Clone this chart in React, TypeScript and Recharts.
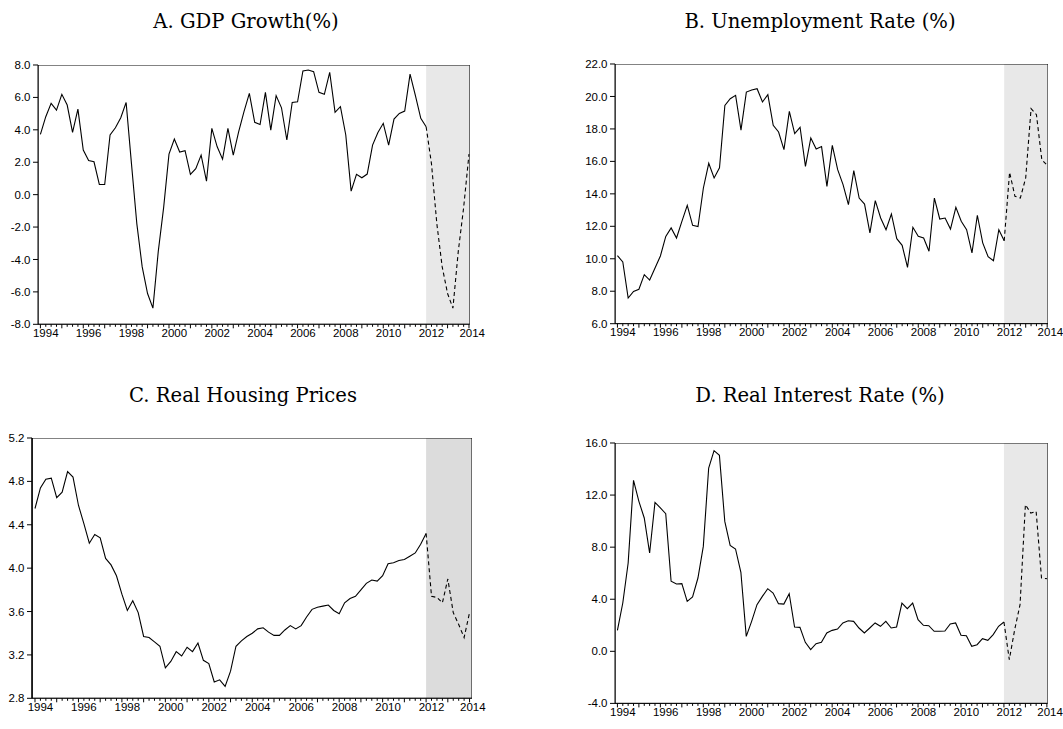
import React from 'react';
import { LineChart, Line, XAxis, YAxis, ReferenceArea } from 'recharts';

// Quarterly data, 1994Q1 .. 2014Q1 (81 quarters); forecast from 2012Q1 (index 72)
const START_YEAR = 1994;
const N_Q = 81;
const FORECAST_START = 72;

const gdpHist = [
  3.72, 4.81, 5.63, 5.22, 6.19, 5.53, 3.84, 5.28, 2.75, 2.11, 2.03, 0.63, 0.63, 3.68, 4.13, 4.75, 5.69,
  1.9, -1.8, -4.46, -6.1, -7.0, -3.5, -0.8, 2.5,
  3.43, 2.63, 2.71, 1.25, 1.6, 2.44, 0.83, 4.09, 2.95, 2.19, 4.09, 2.44, 3.88, 5.12, 6.25,
  4.46, 4.33, 6.31, 3.98, 6.11, 5.36, 3.37, 5.69, 5.73, 7.63, 7.69, 7.59, 6.31, 6.19, 7.55, 5.08, 5.43,
  3.68, 0.22, 1.25, 1.04, 1.27, 3.06, 3.84, 4.4, 3.06, 4.66, 5.01, 5.16, 7.44, 6.11, 4.71, 4.19,
];
const gdpFcst = [4.19, 1.9, -1.8, -4.46, -6.1, -7.0, -3.5, -0.8, 2.5];

const unempHist = [
  10.19, 9.8, 7.58, 7.99, 8.12, 9.02, 8.69, 9.43, 10.17, 11.38, 11.9, 11.28, 12.3, 13.29, 12.06, 11.98,
  14.36, 15.88, 14.98, 15.6, 19.45, 19.86, 20.07, 17.93, 20.27, 20.4, 20.48, 19.66, 20.11, 18.22, 17.81,
  16.72, 19.08, 17.71, 18.1, 15.69, 17.44, 16.76, 16.91,
  14.46, 16.99, 15.49, 14.57, 13.33, 15.43, 13.74, 13.37, 11.59, 13.58, 12.51,
  11.79, 12.76, 11.24, 10.83, 9.47, 11.94, 11.38, 11.28, 10.46, 13.74, 12.45, 12.51, 11.83, 13.17, 12.31,
  11.79, 10.36, 12.68, 10.98, 10.13, 9.88, 11.79, 11.11,
];
const unempFcst = [11.11, 15.33, 13.85, 13.74, 14.98, 19.25, 18.88, 16.1, 15.76];

const houseHist = [
  4.55, 4.74, 4.82, 4.83, 4.65, 4.7, 4.89, 4.84, 4.58, 4.41, 4.23, 4.31, 4.28, 4.09, 4.03, 3.93, 3.76,
  3.61, 3.7, 3.59, 3.37, 3.36, 3.32, 3.28, 3.08, 3.14, 3.23, 3.19, 3.27, 3.23, 3.31, 3.15, 3.12, 2.95,
  2.97, 2.91, 3.05, 3.28, 3.33, 3.37, 3.4, 3.44,
  3.45, 3.41, 3.38, 3.38, 3.43, 3.47, 3.44, 3.47, 3.55, 3.62, 3.64, 3.65, 3.66, 3.61, 3.58, 3.68, 3.72,
  3.74, 3.8, 3.86, 3.89, 3.88, 3.93, 4.04, 4.05, 4.07, 4.08, 4.11, 4.14, 4.22, 4.32,
];
const houseFcst = [4.32, 3.74, 3.73, 3.68, 3.9, 3.59, 3.48, 3.36, 3.59];

const rateHist = [
  1.61, 3.71, 6.78, 13.13, 11.52, 10.24, 7.55, 11.44, 11.01, 10.57, 5.38, 5.17, 5.2, 3.84, 4.17, 5.63,
  8.06, 14.08, 15.41, 15.05, 9.98, 8.14, 7.86, 6.07, 1.15, 2.3, 3.58, 4.22, 4.81, 4.48, 3.66, 3.63, 4.43,
  1.87, 1.84, 0.69, 0.13, 0.59, 0.69,
  1.41, 1.61, 1.71, 2.18, 2.35, 2.3, 1.79, 1.41, 1.79, 2.18, 1.92, 2.3, 1.79, 1.87, 3.71, 3.28, 3.71,
  2.43, 2.0, 1.97, 1.54, 1.54, 1.56, 2.1, 2.18, 1.23, 1.2, 0.38, 0.51, 0.97, 0.84, 1.28, 1.92, 2.25,
];
const rateFcst = [2.25, -0.64, 1.66, 3.58, 11.26, 10.62, 10.75, 5.63, 5.58];

const gdpTicks = [-8, -6, -4, -2, 0, 2, 4, 6, 8];
const unempTicks = [6, 8, 10, 12, 14, 16, 18, 20, 22];
const houseTicks = [2.8, 3.2, 3.6, 4.0, 4.4, 4.8, 5.2];
const rateTicks = [-4, 0, 4, 8, 12, 16];

const titles = ['A. GDP Growth(%)', 'B. Unemployment Rate (%)', 'C. Real Housing Prices', 'D. Real Interest Rate (%)'];

const SANS = 'Liberation Sans, Arial, Helvetica, sans-serif';

function buildRows(hist: number[], fcst: number[]) {
  const rows: any[] = [];
  for (let i = 0; i < N_Q; i++) {
    rows.push({
      q: i,
      h: i < hist.length ? hist[i] : null,
      f: i >= FORECAST_START ? fcst[i - FORECAST_START] : null,
    });
  }
  return rows;
}

function XTick(props: any) {
  const { x, y, payload, pxq } = props;
  const i = payload.value;
  const len = i % 4 === 0 ? 4 : 2.5;
  const off = i === N_Q - 1 ? 0.6 * pxq : 1.0 * pxq;
  return (
    <g>
      <line x1={x} x2={x} y1={y} y2={y + len} stroke="#000" strokeWidth={1} />
      {i % 8 === 0 && (
        <text x={x + off} y={y + 12.5} textAnchor="middle" fontSize={11.5} fontFamily={SANS} fill="#000">
          {START_YEAR + i / 4}
        </text>
      )}
    </g>
  );
}

type Box = { left: number; top: number; w: number; h: number };

function Panel(props: {
  box: Box; xDomain: [number, number]; yDomain: [number, number]; yTicks: number[];
  hist: number[]; fcst: number[]; shade: string; axisW?: number;
}) {
  const { box, xDomain, yDomain, yTicks, hist, fcst, shade } = props;
  const YW = 44, XH = 26, MT = 10, MR = 18, MB = 4;
  const width = YW + box.w + MR;
  const height = MT + box.h + XH + MB;
  const pxq = box.w / (xDomain[1] - xDomain[0]);
  const rows = buildRows(hist, fcst);
  const qTicks = Array.from({ length: N_Q }, (_, i) => i);
  const aw = props.axisW || 1;
  return (
    <div style={{ position: 'absolute', left: box.left - YW, top: box.top - MT }}>
      <LineChart width={width} height={height} data={rows} margin={{ top: MT, right: MR, bottom: MB, left: 0 }}
        style={{ overflow: 'visible' }}>
        <XAxis
          dataKey="q" type="number" domain={xDomain} allowDataOverflow ticks={qTicks} interval={0}
          tickLine={false} tickSize={0} tickMargin={0} height={XH}
          axisLine={{ stroke: '#000', strokeWidth: 1 }}
          tick={(p: any) => <XTick {...p} pxq={pxq} />}
        />
        <YAxis
          type="number" domain={yDomain} allowDataOverflow ticks={yTicks} interval={0} width={YW}
          tickSize={5} tickMargin={2.5} tickLine={{ stroke: '#000' }}
          axisLine={{ stroke: '#000', strokeWidth: aw }}
          tick={{ fill: '#000', fontSize: 11.5, fontFamily: SANS }}
          tickFormatter={(v: number) => v.toFixed(1)}
        />
        <ReferenceArea x1={FORECAST_START} x2={xDomain[1]} y1={yDomain[0]} y2={yDomain[1]}
          fill={shade} fillOpacity={1} stroke="none" ifOverflow="hidden" />
        <Line type="linear" dataKey="h" stroke="#000" strokeWidth={1.1} dot={false} activeDot={false}
          isAnimationActive={false} connectNulls={false} />
        <Line type="linear" dataKey="f" stroke="#000" strokeWidth={1.1} strokeDasharray="4 3" dot={false}
          activeDot={false} isAnimationActive={false} connectNulls={false} />
        <ReferenceArea x1={xDomain[0]} x2={xDomain[1]} y1={yDomain[0]} y2={yDomain[1]}
          fill="none" fillOpacity={0} stroke="#000" strokeWidth={1} ifOverflow="hidden" />
      </LineChart>
    </div>
  );
}

export default function App() {
  const titleStyle = { fontFamily: 'DejaVu Serif, serif', fontSize: 19.6, fill: '#000' } as any;
  return (
    <div style={{ position: 'absolute', left: 0, top: 0, width: 1063, height: 729, background: '#fff', overflow: 'hidden' }}>
      <svg width={1063} height={729} style={{ position: 'absolute', left: 0, top: 0 }}>
        <text x={246} y={28} textAnchor="middle" {...titleStyle}>{titles[0]}</text>
        <text x={820} y={28} textAnchor="middle" {...titleStyle}>{titles[1]}</text>
        <text x={243} y={402} textAnchor="middle" {...titleStyle}>{titles[2]}</text>
        <text x={820} y={402} textAnchor="middle" {...titleStyle}>{titles[3]}</text>
      </svg>
      <Panel box={{ left: 37.7, top: 65, w: 431.8, h: 259.3 }} xDomain={[-0.45, 80.15]} yDomain={[-8, 8]}
        yTicks={gdpTicks} hist={gdpHist} fcst={gdpFcst} shade="#e8e8e8" />
      <Panel box={{ left: 614.5, top: 64.3, w: 433, h: 259.7 }} xDomain={[-0.45, 80.15]} yDomain={[6, 22]}
        yTicks={unempTicks} hist={unempHist} fcst={unempFcst} shade="#e8e8e8" />
      <Panel box={{ left: 31.7, top: 438.3, w: 440, h: 260.3 }} xDomain={[-0.55, 80.45]} yDomain={[2.8, 5.2]}
        yTicks={houseTicks} hist={houseHist} fcst={houseFcst} shade="#dcdcdc" axisW={1.6} />
      <Panel box={{ left: 615, top: 443.3, w: 432.7, h: 260.4 }} xDomain={[-0.45, 80.15]} yDomain={[-4, 16]}
        yTicks={rateTicks} hist={rateHist} fcst={rateFcst} shade="#e8e8e8" />
    </div>
  );
}
